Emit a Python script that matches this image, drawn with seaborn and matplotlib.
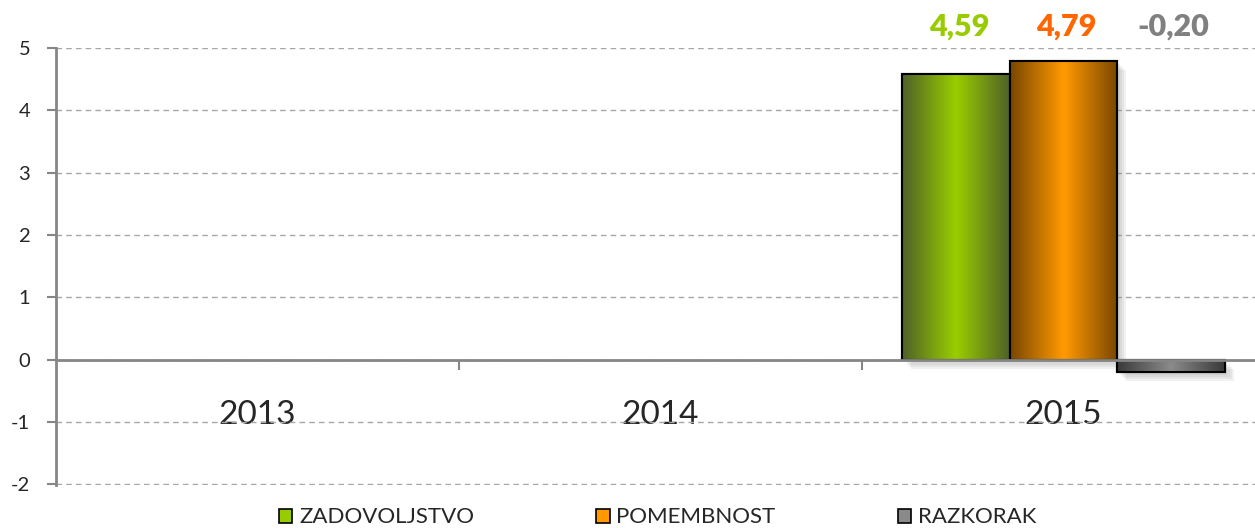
import numpy as np
import pandas as pd
import matplotlib
matplotlib.use('Agg')
from matplotlib import pyplot as plt
from matplotlib import patheffects as pe
from matplotlib.colors import LinearSegmentedColormap
from matplotlib.patches import Rectangle, Patch
import seaborn as sns

# data
years = ['2013', '2014', '2015']
series = ['ZADOVOLJSTVO', 'POMEMBNOST', 'RAZKORAK']
zadovoljstvo = [np.nan, np.nan, 4.59]
pomembnost = [np.nan, np.nan, 4.79]
razkorak = [np.nan, np.nan, -0.20]

# colours: (edge shade, centre shade, label colour)
shades = {
    'ZADOVOLJSTVO': ('#4f6228', '#99cc00', '#99cc00'),
    'POMEMBNOST': ('#7a4700', '#ff9900', '#ff6600'),
    'RAZKORAK': ('#3a3a3a', '#8a8a8a', '#808080'),
}

df = pd.DataFrame({
    'leto': years * 3,
    'serija': [s for s in series for _ in years],
    'vrednost': zadovoljstvo + pomembnost + razkorak,
})

sns.set_style('white')
plt.rcParams['font.family'] = ['Lato', 'DejaVu Sans']
plt.rcParams['axes.unicode_minus'] = False

fig = plt.figure(figsize=(12.55, 5.28), dpi=100)
ax = fig.add_axes([56 / 1255, 43 / 528, 1209 / 1255, 437 / 528])

sns.barplot(data=df, x='leto', y='vrednost', hue='serija', order=years,
            hue_order=series, palette=[shades[s][1] for s in series],
            width=0.8, edgecolor='black', linewidth=1.5, legend=False,
            ax=ax, zorder=3)

ax.set_xlim(-0.5, 2.5)
ax.set_ylim(-2.01, 5)
ax.set_yticks(range(-2, 6))

# soft-ish shadow built from a few faint offset copies
shadow = [pe.SimplePatchShadow(offset=(o, -o), shadow_rgbFace='#8c8c8c', alpha=0.12)
          for o in (2, 3.5, 5, 6.5)] + [pe.Normal()]

# gradient fill + shadow on every drawn bar
grad = np.concatenate([np.linspace(0, 1, 50), np.linspace(1, 0, 50)])[None, :]
for container, name in zip(ax.containers, series):
    cmap = LinearSegmentedColormap.from_list(name, [shades[name][0], shades[name][1]])
    for bar, val in zip(container.patches, container.datavalues):
        if np.isnan(val):
            continue
        x0, y0 = bar.get_x(), bar.get_y()
        w, h = bar.get_width(), bar.get_height()
        bar.set_path_effects(shadow)
        im = ax.imshow(grad, cmap=cmap, aspect='auto', extent=(x0, x0 + w, y0, y0 + h),
                       zorder=3.5, interpolation='bicubic')
        im.set_clip_path(bar)
        ax.add_patch(Rectangle((x0, y0), w, h, fill=False, edgecolor='black', lw=1.5, zorder=4))
        ax.annotate(f'{val:.2f}'.replace('.', ','), xy=(x0 + w / 2, 5), xytext=(2, 15.5),
                    textcoords='offset points', ha='center', va='center',
                    fontsize=22, fontweight='heavy', color=shades[name][2],
                    annotation_clip=False)

# axes styling
for side in ['top', 'right']:
    ax.spines[side].set_visible(False)
ax.spines['left'].set_color('#868686')
ax.spines['left'].set_linewidth(2)
ax.spines['bottom'].set_position(('data', 0))
ax.spines['bottom'].set_color('#868686')
ax.spines['bottom'].set_linewidth(2)
ax.spines['bottom'].set_zorder(5)

ax.yaxis.grid(True, linestyle=(0, (4, 3)), color='#a6a6a6', lw=1)
ax.set_axisbelow(True)
ax.tick_params(axis='y', direction='out', length=6.5, width=1.5, color='#868686',
               labelsize=14.5, pad=12, left=True)
ax.tick_params(axis='x', which='major', length=0, labelsize=24, pad=29)
ax.set_xticks([0.5, 1.5], minor=True)
ax.tick_params(axis='x', which='minor', direction='out', length=7, width=1.5,
               color='#868686', bottom=True)
ax.set_xlabel('')
ax.set_ylabel('')

handles = [Patch(facecolor=shades[s][1], edgecolor='black', lw=1.2) for s in series]
fig.legend(handles, series, loc='center', bbox_to_anchor=(0.524, 0.02), ncol=3,
           frameon=False, fontsize=16, handlelength=0.6, handleheight=0.6,
           handletextpad=0.3, columnspacing=5.5, borderaxespad=0)

fig.savefig('out.png', dpi=100)
